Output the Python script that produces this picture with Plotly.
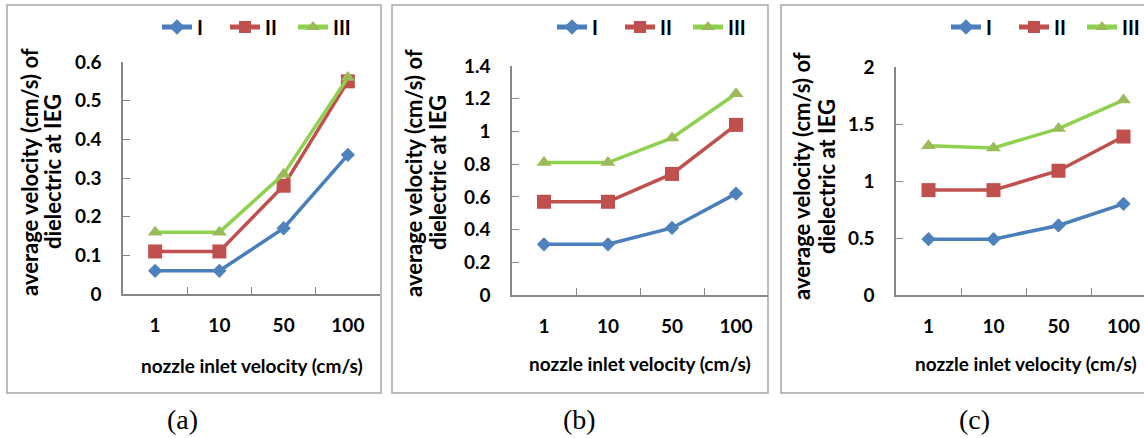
import plotly.graph_objects as go

W, H = 1144, 438

# Categories on the x axis (nozzle inlet velocity, cm/s)
inlet_velocity = ["1", "10", "50", "100"]
series_names = ["I", "II", "III"]

# Average dielectric velocity at IEG (cm/s) for each panel and series
panel_a = {
    "I": [0.06, 0.06, 0.17, 0.36],
    "II": [0.11, 0.11, 0.28, 0.55],
    "III": [0.16, 0.16, 0.31, 0.56],
}
panel_b = {
    "I": [0.31, 0.31, 0.41, 0.62],
    "II": [0.57, 0.57, 0.74, 1.04],
    "III": [0.81, 0.81, 0.96, 1.23],
}
panel_c = {
    "I": [0.49, 0.49, 0.61, 0.80],
    "II": [0.92, 0.92, 1.09, 1.39],
    "III": [1.31, 1.29, 1.46, 1.71],
}

y_ticks_a = [0, 0.1, 0.2, 0.3, 0.4, 0.5, 0.6]
y_ticks_b = [0, 0.2, 0.4, 0.6, 0.8, 1.0, 1.2, 1.4]
y_ticks_c = [0, 0.5, 1.0, 1.5, 2.0]

panel_labels = ["(a)", "(b)", "(c)"]
x_title = "nozzle inlet velocity (cm/s)"
y_title_lines = ["average velocity (cm/s) of", "dielectric at IEG"]

line_colors = {"I": "#4A7EBB", "II": "#C0504D", "III": "#8ED14F"}
marker_colors = {"I": "#4F81BD", "II": "#C0504D", "III": "#9BBB59"}
marker_symbols = {"I": "diamond", "II": "square", "III": "triangle-up"}
marker_sizes = {"I": 11, "II": 14, "III": 13}

FONT = "Lato"
AXIS_COLOR = "#868686"


def px_x(p):
    return p / W


def px_y(p):
    return 1 - p / H


# Pixel layout of each panel: plot area, frame, legend and title positions
panels = [
    dict(data=panel_a, ticks=y_ticks_a, x0=123, x1=380, ytop=62, ybot=294,
         box=(7, 381), leg_x=157, lab_x=182,
         ytitle_x=(29, 52), ytitle_y=172, xtitle_y=365),
    dict(data=panel_b, ticks=y_ticks_b, x0=512, x1=768, ytop=66, ybot=295,
         box=(392, 768), leg_x=552, lab_x=579,
         ytitle_x=(414, 438), ytitle_y=173, xtitle_y=363),
    dict(data=panel_c, ticks=y_ticks_c, x0=896, x1=1156, ytop=67, ybot=295,
         box=(781, 1160), leg_x=946, lab_x=974,
         ytitle_x=(801, 826), ytitle_y=176, xtitle_y=363),
]

fig = go.Figure()
layout = dict(
    width=W, height=H,
    margin=dict(l=0, r=0, t=0, b=0, pad=0, autoexpand=False),
    paper_bgcolor="white", plot_bgcolor="white",
    font=dict(family=FONT, color="black"),
    shapes=[], annotations=[],
)

bold = dict(family=FONT, weight="bold", color="black")

for i, p in enumerate(panels):
    n = "" if i == 0 else str(i + 1)
    xa, ya = "x" + n, "y" + n
    leg = "legend" + n
    x_end = min(p["x1"], W)
    span = (p["x1"] - p["x0"]) / 4.0
    xr_hi = -0.5 + (x_end - p["x0"]) / span

    for s in series_names:
        fig.add_trace(go.Scatter(
            x=inlet_velocity, y=p["data"][s], name=s,
            mode="lines+markers",
            line=dict(color=line_colors[s], width=3.5),
            marker=dict(symbol=marker_symbols[s], size=marker_sizes[s],
                        color=marker_colors[s], line=dict(width=0)),
            xaxis=xa, yaxis=ya, legend=leg,
        ))

    layout["xaxis" + n] = dict(
        domain=[px_x(p["x0"]), px_x(x_end)],
        anchor=ya, type="category", range=[-0.5, xr_hi],
        tickson="boundaries", ticks="inside", ticklen=7,
        tickcolor=AXIS_COLOR, tickwidth=1,
        showline=True, linecolor=AXIS_COLOR, linewidth=1.5,
        showgrid=False, zeroline=False, automargin=False,
        ticklabelstandoff=13,
        tickfont=dict(bold, size=19),
        fixedrange=True,
    )
    layout["yaxis" + n] = dict(
        domain=[px_y(p["ybot"]), px_y(p["ytop"])],
        anchor=xa, range=[0, p["ticks"][-1]],
        tickvals=p["ticks"], ticks="inside", ticklen=7,
        tickcolor=AXIS_COLOR, tickwidth=1,
        showline=True, linecolor=AXIS_COLOR, linewidth=1.5,
        showgrid=False, zeroline=False, automargin=False,
        ticklabelstandoff=16,
        tickfont=dict(bold, size=19),
        fixedrange=True,
    )
    layout[leg] = dict(
        orientation="h", x=px_x(p["leg_x"]), y=px_y(27),
        xanchor="left", yanchor="middle",
        font=dict(bold, size=20),
        bgcolor="rgba(0,0,0,0)", borderwidth=0,
        entrywidth=23, entrywidthmode="pixels",
        itemsizing="constant",
        itemclick=False, itemdoubleclick=False,
        tracegroupgap=0,
    )

    # Panel frame
    bx0, bx1 = p["box"]
    layout["shapes"].append(dict(
        type="rect", xref="paper", yref="paper",
        x0=px_x(bx0), x1=px_x(bx1), y0=px_y(393), y1=px_y(5),
        line=dict(color="#A6A6A6", width=1.5), fillcolor="rgba(0,0,0,0)",
        layer="below",
    ))

    # Axis titles
    layout["annotations"].append(dict(
        text=x_title, xref="paper", yref="paper",
        x=px_x((p["x0"] + p["x1"]) / 2), y=px_y(p["xtitle_y"]),
        xanchor="center", yanchor="middle", showarrow=False,
        font=dict(bold, size=19),
    ))
    for line_text, lx in zip(y_title_lines, p["ytitle_x"]):
        layout["annotations"].append(dict(
            text=line_text, xref="paper", yref="paper",
            x=px_x(lx), y=px_y(p["ytitle_y"]),
            xanchor="center", yanchor="middle", showarrow=False,
            textangle=-90, font=dict(bold, size=22),
        ))

    # Panel caption
    layout["annotations"].append(dict(
        text=panel_labels[i], xref="paper", yref="paper",
        x=px_x(p["lab_x"]), y=px_y(419), xanchor="center", yanchor="middle",
        showarrow=False,
        font=dict(family="Liberation Serif", size=28, color="black"),
    ))

fig.update_layout(**layout)
fig.write_html("out.html")
